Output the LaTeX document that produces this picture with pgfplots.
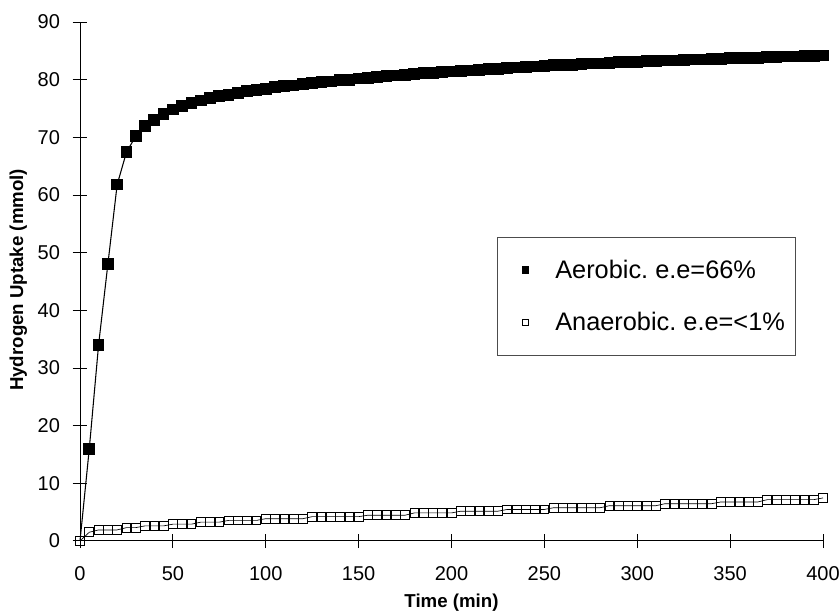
\documentclass[border=0pt]{standalone}
\usepackage{pgfplots}
\pgfplotsset{compat=1.18}
\usepackage{pgfplotstable}
\usepackage{fontspec}
\setmainfont{Liberation Sans}
\frenchspacing

% hydrogen uptake, sampled every 5 min
\pgfplotstableread{
t y
0 0
5 16
10 34
15 48
20 61.8
25 67.4
30 70.2
35 71.9
40 73.0
45 74.0
50 74.8
55 75.4
60 75.9
65 76.4
70 76.8
75 77.1
80 77.4
85 77.7
90 78.0
95 78.2
100 78.4
105 78.7
110 78.9
115 79.0
120 79.2
125 79.4
130 79.6
135 79.7
140 79.9
145 80.0
150 80.2
155 80.3
160 80.5
165 80.6
170 80.7
175 80.8
180 81.0
185 81.1
190 81.2
195 81.3
200 81.4
205 81.5
210 81.6
215 81.7
220 81.8
225 81.9
230 82.0
235 82.1
240 82.2
245 82.3
250 82.4
255 82.5
260 82.5
265 82.6
270 82.7
275 82.8
280 82.8
285 82.9
290 83.0
295 83.0
300 83.1
305 83.2
310 83.2
315 83.3
320 83.3
325 83.4
330 83.5
335 83.5
340 83.6
345 83.6
350 83.7
355 83.7
360 83.8
365 83.8
370 83.9
375 83.9
380 84.0
385 84.0
390 84.1
395 84.1
400 84.2
}\aerobic

\pgfplotstableread{
t y
0 0
5 1.5
10 1.9
15 1.9
20 1.9
25 2.3
30 2.3
35 2.6
40 2.6
45 2.6
50 2.9
55 2.9
60 2.9
65 3.25
70 3.25
75 3.25
80 3.55
85 3.55
90 3.55
95 3.55
100 3.85
105 3.85
110 3.85
115 3.85
120 3.85
125 4.2
130 4.2
135 4.2
140 4.2
145 4.2
150 4.2
155 4.45
160 4.45
165 4.45
170 4.45
175 4.45
180 4.85
185 4.85
190 4.85
195 4.85
200 4.85
205 5.15
210 5.15
215 5.15
220 5.15
225 5.15
230 5.45
235 5.45
240 5.45
245 5.45
250 5.45
255 5.75
260 5.75
265 5.75
270 5.75
275 5.75
280 5.75
285 6.1
290 6.1
295 6.1
300 6.1
305 6.1
310 6.1
315 6.45
320 6.45
325 6.45
330 6.45
335 6.45
340 6.45
345 6.75
350 6.75
355 6.75
360 6.75
365 6.75
370 7.15
375 7.15
380 7.15
385 7.15
390 7.15
395 7.15
400 7.45
}\anaerobic

\begin{document}
\begin{tikzpicture}
\begin{axis}[
    scale only axis,
    width=557pt,
    height=389pt,
    xmin=0, xmax=400,
    ymin=0, ymax=90,
    xtick={0,50,...,400},
    ytick={0,10,...,90},
    axis x line=bottom,
    axis y line=left,
    axis line style={-, line width=0.6pt},
    tick align=center,
    major tick length=11pt,
    tick style={black, line width=0.6pt},
    tick label style={font=\fontsize{15}{17}\selectfont},
    yticklabel style={xshift=-6pt},
    xticklabel style={yshift=-10pt},
    /pgf/number format/assume math mode=true,
    xlabel={Time (min)},
    ylabel={Hydrogen Uptake (mmol)},
    label style={font=\bfseries\fontsize{14}{16}\selectfont},
    xlabel style={at={(axis description cs:0.5,-0.119)}, anchor=center},
    ylabel style={at={(axis description cs:-0.083,0.503)}, anchor=center},
    clip=false,
    legend style={at={(0.561,0.586)}, anchor=north west,
      draw=black!70, line width=0.5pt,
      font=\fontsize{19}{22}\selectfont,
      inner xsep=6pt, inner ysep=15pt, row sep=20pt,
      cells={anchor=west}},
    legend image code/.code={
      \path[draw=none] (0cm,0cm) -- (1.25cm,0cm);
      \draw[#1,only marks,mark phase=1,mark size=2.4pt] plot coordinates {(0.53cm,0cm)};},
  ]
  \addplot[black, line width=0.8pt, mark=square*, mark size=4pt, mark phase=2] table[x=t, y=y] {\aerobic};
  \addplot[black, line width=0.5pt, mark=square, mark size=3.3pt,
    mark options={fill=white, line width=0.6pt}] table[x=t, y=y] {\anaerobic};
  \legend{Aerobic. e.e=66\%, Anaerobic. e.e=<1\%}
  \coordinate (bl) at (rel axis cs:-0.1077,-0.1427);
  \coordinate (tr) at (rel axis cs:1.0229,1.0424);
\end{axis}
\pgfresetboundingbox
\path (bl) rectangle (tr);
\end{tikzpicture}
\end{document}
